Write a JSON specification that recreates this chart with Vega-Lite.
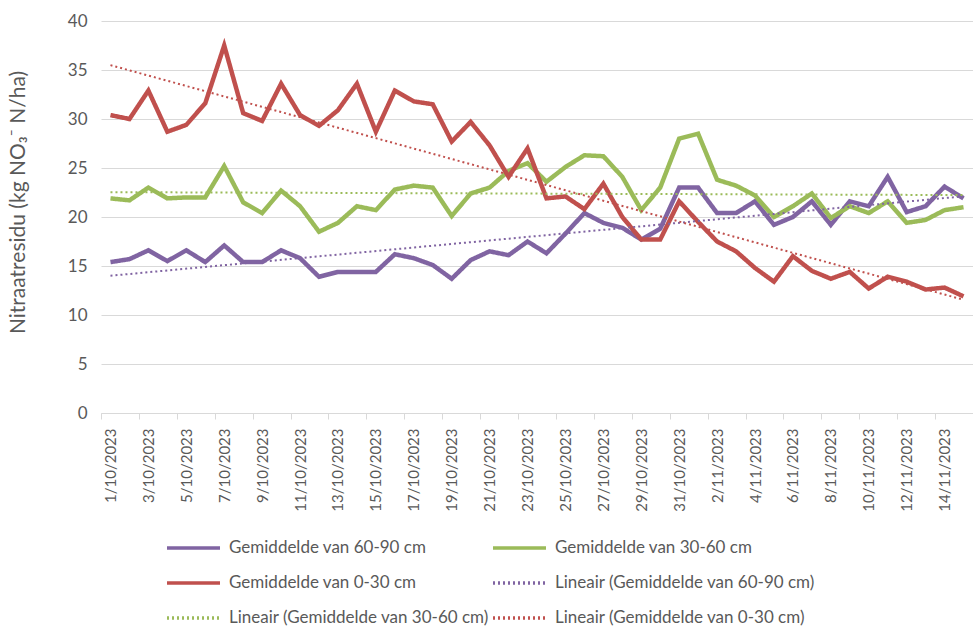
{
  "$schema": "https://vega.github.io/schema/vega-lite/v6.json",
  "width": 872,
  "height": 392,
  "autosize": {"type": "none"},
  "padding": {"left": 101, "top": 21, "right": 0, "bottom": 215},
  "background": "white",
  "config": {"view": {"stroke": null}, "font": "Lato", "axisX": {"labelOverlap": false, "labelFlush": false}},
  "datasets": {
    "rows": [
      {"day":1,"series":"Gemiddelde van 60-90 cm","trend":"Lineair (Gemiddelde van 60-90 cm)","value":15.4},
      {"day":2,"series":"Gemiddelde van 60-90 cm","trend":"Lineair (Gemiddelde van 60-90 cm)","value":15.7},
      {"day":3,"series":"Gemiddelde van 60-90 cm","trend":"Lineair (Gemiddelde van 60-90 cm)","value":16.6},
      {"day":4,"series":"Gemiddelde van 60-90 cm","trend":"Lineair (Gemiddelde van 60-90 cm)","value":15.5},
      {"day":5,"series":"Gemiddelde van 60-90 cm","trend":"Lineair (Gemiddelde van 60-90 cm)","value":16.6},
      {"day":6,"series":"Gemiddelde van 60-90 cm","trend":"Lineair (Gemiddelde van 60-90 cm)","value":15.4},
      {"day":7,"series":"Gemiddelde van 60-90 cm","trend":"Lineair (Gemiddelde van 60-90 cm)","value":17.1},
      {"day":8,"series":"Gemiddelde van 60-90 cm","trend":"Lineair (Gemiddelde van 60-90 cm)","value":15.4},
      {"day":9,"series":"Gemiddelde van 60-90 cm","trend":"Lineair (Gemiddelde van 60-90 cm)","value":15.4},
      {"day":10,"series":"Gemiddelde van 60-90 cm","trend":"Lineair (Gemiddelde van 60-90 cm)","value":16.6},
      {"day":11,"series":"Gemiddelde van 60-90 cm","trend":"Lineair (Gemiddelde van 60-90 cm)","value":15.8},
      {"day":12,"series":"Gemiddelde van 60-90 cm","trend":"Lineair (Gemiddelde van 60-90 cm)","value":13.9},
      {"day":13,"series":"Gemiddelde van 60-90 cm","trend":"Lineair (Gemiddelde van 60-90 cm)","value":14.4},
      {"day":14,"series":"Gemiddelde van 60-90 cm","trend":"Lineair (Gemiddelde van 60-90 cm)","value":14.4},
      {"day":15,"series":"Gemiddelde van 60-90 cm","trend":"Lineair (Gemiddelde van 60-90 cm)","value":14.4},
      {"day":16,"series":"Gemiddelde van 60-90 cm","trend":"Lineair (Gemiddelde van 60-90 cm)","value":16.2},
      {"day":17,"series":"Gemiddelde van 60-90 cm","trend":"Lineair (Gemiddelde van 60-90 cm)","value":15.8},
      {"day":18,"series":"Gemiddelde van 60-90 cm","trend":"Lineair (Gemiddelde van 60-90 cm)","value":15.1},
      {"day":19,"series":"Gemiddelde van 60-90 cm","trend":"Lineair (Gemiddelde van 60-90 cm)","value":13.7},
      {"day":20,"series":"Gemiddelde van 60-90 cm","trend":"Lineair (Gemiddelde van 60-90 cm)","value":15.6},
      {"day":21,"series":"Gemiddelde van 60-90 cm","trend":"Lineair (Gemiddelde van 60-90 cm)","value":16.5},
      {"day":22,"series":"Gemiddelde van 60-90 cm","trend":"Lineair (Gemiddelde van 60-90 cm)","value":16.1},
      {"day":23,"series":"Gemiddelde van 60-90 cm","trend":"Lineair (Gemiddelde van 60-90 cm)","value":17.5},
      {"day":24,"series":"Gemiddelde van 60-90 cm","trend":"Lineair (Gemiddelde van 60-90 cm)","value":16.3},
      {"day":25,"series":"Gemiddelde van 60-90 cm","trend":"Lineair (Gemiddelde van 60-90 cm)","value":18.3},
      {"day":26,"series":"Gemiddelde van 60-90 cm","trend":"Lineair (Gemiddelde van 60-90 cm)","value":20.4},
      {"day":27,"series":"Gemiddelde van 60-90 cm","trend":"Lineair (Gemiddelde van 60-90 cm)","value":19.4},
      {"day":28,"series":"Gemiddelde van 60-90 cm","trend":"Lineair (Gemiddelde van 60-90 cm)","value":18.9},
      {"day":29,"series":"Gemiddelde van 60-90 cm","trend":"Lineair (Gemiddelde van 60-90 cm)","value":17.7},
      {"day":30,"series":"Gemiddelde van 60-90 cm","trend":"Lineair (Gemiddelde van 60-90 cm)","value":18.8},
      {"day":31,"series":"Gemiddelde van 60-90 cm","trend":"Lineair (Gemiddelde van 60-90 cm)","value":23.0},
      {"day":32,"series":"Gemiddelde van 60-90 cm","trend":"Lineair (Gemiddelde van 60-90 cm)","value":23.0},
      {"day":33,"series":"Gemiddelde van 60-90 cm","trend":"Lineair (Gemiddelde van 60-90 cm)","value":20.4},
      {"day":34,"series":"Gemiddelde van 60-90 cm","trend":"Lineair (Gemiddelde van 60-90 cm)","value":20.4},
      {"day":35,"series":"Gemiddelde van 60-90 cm","trend":"Lineair (Gemiddelde van 60-90 cm)","value":21.6},
      {"day":36,"series":"Gemiddelde van 60-90 cm","trend":"Lineair (Gemiddelde van 60-90 cm)","value":19.2},
      {"day":37,"series":"Gemiddelde van 60-90 cm","trend":"Lineair (Gemiddelde van 60-90 cm)","value":20.0},
      {"day":38,"series":"Gemiddelde van 60-90 cm","trend":"Lineair (Gemiddelde van 60-90 cm)","value":21.6},
      {"day":39,"series":"Gemiddelde van 60-90 cm","trend":"Lineair (Gemiddelde van 60-90 cm)","value":19.2},
      {"day":40,"series":"Gemiddelde van 60-90 cm","trend":"Lineair (Gemiddelde van 60-90 cm)","value":21.6},
      {"day":41,"series":"Gemiddelde van 60-90 cm","trend":"Lineair (Gemiddelde van 60-90 cm)","value":21.1},
      {"day":42,"series":"Gemiddelde van 60-90 cm","trend":"Lineair (Gemiddelde van 60-90 cm)","value":24.1},
      {"day":43,"series":"Gemiddelde van 60-90 cm","trend":"Lineair (Gemiddelde van 60-90 cm)","value":20.5},
      {"day":44,"series":"Gemiddelde van 60-90 cm","trend":"Lineair (Gemiddelde van 60-90 cm)","value":21.1},
      {"day":45,"series":"Gemiddelde van 60-90 cm","trend":"Lineair (Gemiddelde van 60-90 cm)","value":23.1},
      {"day":46,"series":"Gemiddelde van 60-90 cm","trend":"Lineair (Gemiddelde van 60-90 cm)","value":21.9},
      {"day":1,"series":"Gemiddelde van 30-60 cm","trend":"Lineair (Gemiddelde van 30-60 cm)","value":21.9},
      {"day":2,"series":"Gemiddelde van 30-60 cm","trend":"Lineair (Gemiddelde van 30-60 cm)","value":21.7},
      {"day":3,"series":"Gemiddelde van 30-60 cm","trend":"Lineair (Gemiddelde van 30-60 cm)","value":23.0},
      {"day":4,"series":"Gemiddelde van 30-60 cm","trend":"Lineair (Gemiddelde van 30-60 cm)","value":21.9},
      {"day":5,"series":"Gemiddelde van 30-60 cm","trend":"Lineair (Gemiddelde van 30-60 cm)","value":22.0},
      {"day":6,"series":"Gemiddelde van 30-60 cm","trend":"Lineair (Gemiddelde van 30-60 cm)","value":22.0},
      {"day":7,"series":"Gemiddelde van 30-60 cm","trend":"Lineair (Gemiddelde van 30-60 cm)","value":25.2},
      {"day":8,"series":"Gemiddelde van 30-60 cm","trend":"Lineair (Gemiddelde van 30-60 cm)","value":21.5},
      {"day":9,"series":"Gemiddelde van 30-60 cm","trend":"Lineair (Gemiddelde van 30-60 cm)","value":20.4},
      {"day":10,"series":"Gemiddelde van 30-60 cm","trend":"Lineair (Gemiddelde van 30-60 cm)","value":22.7},
      {"day":11,"series":"Gemiddelde van 30-60 cm","trend":"Lineair (Gemiddelde van 30-60 cm)","value":21.1},
      {"day":12,"series":"Gemiddelde van 30-60 cm","trend":"Lineair (Gemiddelde van 30-60 cm)","value":18.5},
      {"day":13,"series":"Gemiddelde van 30-60 cm","trend":"Lineair (Gemiddelde van 30-60 cm)","value":19.4},
      {"day":14,"series":"Gemiddelde van 30-60 cm","trend":"Lineair (Gemiddelde van 30-60 cm)","value":21.1},
      {"day":15,"series":"Gemiddelde van 30-60 cm","trend":"Lineair (Gemiddelde van 30-60 cm)","value":20.7},
      {"day":16,"series":"Gemiddelde van 30-60 cm","trend":"Lineair (Gemiddelde van 30-60 cm)","value":22.8},
      {"day":17,"series":"Gemiddelde van 30-60 cm","trend":"Lineair (Gemiddelde van 30-60 cm)","value":23.2},
      {"day":18,"series":"Gemiddelde van 30-60 cm","trend":"Lineair (Gemiddelde van 30-60 cm)","value":23.0},
      {"day":19,"series":"Gemiddelde van 30-60 cm","trend":"Lineair (Gemiddelde van 30-60 cm)","value":20.1},
      {"day":20,"series":"Gemiddelde van 30-60 cm","trend":"Lineair (Gemiddelde van 30-60 cm)","value":22.4},
      {"day":21,"series":"Gemiddelde van 30-60 cm","trend":"Lineair (Gemiddelde van 30-60 cm)","value":23.0},
      {"day":22,"series":"Gemiddelde van 30-60 cm","trend":"Lineair (Gemiddelde van 30-60 cm)","value":24.7},
      {"day":23,"series":"Gemiddelde van 30-60 cm","trend":"Lineair (Gemiddelde van 30-60 cm)","value":25.5},
      {"day":24,"series":"Gemiddelde van 30-60 cm","trend":"Lineair (Gemiddelde van 30-60 cm)","value":23.6},
      {"day":25,"series":"Gemiddelde van 30-60 cm","trend":"Lineair (Gemiddelde van 30-60 cm)","value":25.1},
      {"day":26,"series":"Gemiddelde van 30-60 cm","trend":"Lineair (Gemiddelde van 30-60 cm)","value":26.3},
      {"day":27,"series":"Gemiddelde van 30-60 cm","trend":"Lineair (Gemiddelde van 30-60 cm)","value":26.2},
      {"day":28,"series":"Gemiddelde van 30-60 cm","trend":"Lineair (Gemiddelde van 30-60 cm)","value":24.1},
      {"day":29,"series":"Gemiddelde van 30-60 cm","trend":"Lineair (Gemiddelde van 30-60 cm)","value":20.7},
      {"day":30,"series":"Gemiddelde van 30-60 cm","trend":"Lineair (Gemiddelde van 30-60 cm)","value":23.0},
      {"day":31,"series":"Gemiddelde van 30-60 cm","trend":"Lineair (Gemiddelde van 30-60 cm)","value":28.0},
      {"day":32,"series":"Gemiddelde van 30-60 cm","trend":"Lineair (Gemiddelde van 30-60 cm)","value":28.5},
      {"day":33,"series":"Gemiddelde van 30-60 cm","trend":"Lineair (Gemiddelde van 30-60 cm)","value":23.8},
      {"day":34,"series":"Gemiddelde van 30-60 cm","trend":"Lineair (Gemiddelde van 30-60 cm)","value":23.2},
      {"day":35,"series":"Gemiddelde van 30-60 cm","trend":"Lineair (Gemiddelde van 30-60 cm)","value":22.2},
      {"day":36,"series":"Gemiddelde van 30-60 cm","trend":"Lineair (Gemiddelde van 30-60 cm)","value":20.0},
      {"day":37,"series":"Gemiddelde van 30-60 cm","trend":"Lineair (Gemiddelde van 30-60 cm)","value":21.1},
      {"day":38,"series":"Gemiddelde van 30-60 cm","trend":"Lineair (Gemiddelde van 30-60 cm)","value":22.4},
      {"day":39,"series":"Gemiddelde van 30-60 cm","trend":"Lineair (Gemiddelde van 30-60 cm)","value":19.9},
      {"day":40,"series":"Gemiddelde van 30-60 cm","trend":"Lineair (Gemiddelde van 30-60 cm)","value":21.1},
      {"day":41,"series":"Gemiddelde van 30-60 cm","trend":"Lineair (Gemiddelde van 30-60 cm)","value":20.4},
      {"day":42,"series":"Gemiddelde van 30-60 cm","trend":"Lineair (Gemiddelde van 30-60 cm)","value":21.6},
      {"day":43,"series":"Gemiddelde van 30-60 cm","trend":"Lineair (Gemiddelde van 30-60 cm)","value":19.4},
      {"day":44,"series":"Gemiddelde van 30-60 cm","trend":"Lineair (Gemiddelde van 30-60 cm)","value":19.7},
      {"day":45,"series":"Gemiddelde van 30-60 cm","trend":"Lineair (Gemiddelde van 30-60 cm)","value":20.7},
      {"day":46,"series":"Gemiddelde van 30-60 cm","trend":"Lineair (Gemiddelde van 30-60 cm)","value":21.0},
      {"day":1,"series":"Gemiddelde van 0-30 cm","trend":"Lineair (Gemiddelde van 0-30 cm)","value":30.4},
      {"day":2,"series":"Gemiddelde van 0-30 cm","trend":"Lineair (Gemiddelde van 0-30 cm)","value":30.0},
      {"day":3,"series":"Gemiddelde van 0-30 cm","trend":"Lineair (Gemiddelde van 0-30 cm)","value":32.9},
      {"day":4,"series":"Gemiddelde van 0-30 cm","trend":"Lineair (Gemiddelde van 0-30 cm)","value":28.7},
      {"day":5,"series":"Gemiddelde van 0-30 cm","trend":"Lineair (Gemiddelde van 0-30 cm)","value":29.4},
      {"day":6,"series":"Gemiddelde van 0-30 cm","trend":"Lineair (Gemiddelde van 0-30 cm)","value":31.6},
      {"day":7,"series":"Gemiddelde van 0-30 cm","trend":"Lineair (Gemiddelde van 0-30 cm)","value":37.5},
      {"day":8,"series":"Gemiddelde van 0-30 cm","trend":"Lineair (Gemiddelde van 0-30 cm)","value":30.6},
      {"day":9,"series":"Gemiddelde van 0-30 cm","trend":"Lineair (Gemiddelde van 0-30 cm)","value":29.8},
      {"day":10,"series":"Gemiddelde van 0-30 cm","trend":"Lineair (Gemiddelde van 0-30 cm)","value":33.6},
      {"day":11,"series":"Gemiddelde van 0-30 cm","trend":"Lineair (Gemiddelde van 0-30 cm)","value":30.4},
      {"day":12,"series":"Gemiddelde van 0-30 cm","trend":"Lineair (Gemiddelde van 0-30 cm)","value":29.3},
      {"day":13,"series":"Gemiddelde van 0-30 cm","trend":"Lineair (Gemiddelde van 0-30 cm)","value":30.9},
      {"day":14,"series":"Gemiddelde van 0-30 cm","trend":"Lineair (Gemiddelde van 0-30 cm)","value":33.6},
      {"day":15,"series":"Gemiddelde van 0-30 cm","trend":"Lineair (Gemiddelde van 0-30 cm)","value":28.7},
      {"day":16,"series":"Gemiddelde van 0-30 cm","trend":"Lineair (Gemiddelde van 0-30 cm)","value":32.9},
      {"day":17,"series":"Gemiddelde van 0-30 cm","trend":"Lineair (Gemiddelde van 0-30 cm)","value":31.8},
      {"day":18,"series":"Gemiddelde van 0-30 cm","trend":"Lineair (Gemiddelde van 0-30 cm)","value":31.5},
      {"day":19,"series":"Gemiddelde van 0-30 cm","trend":"Lineair (Gemiddelde van 0-30 cm)","value":27.7},
      {"day":20,"series":"Gemiddelde van 0-30 cm","trend":"Lineair (Gemiddelde van 0-30 cm)","value":29.7},
      {"day":21,"series":"Gemiddelde van 0-30 cm","trend":"Lineair (Gemiddelde van 0-30 cm)","value":27.3},
      {"day":22,"series":"Gemiddelde van 0-30 cm","trend":"Lineair (Gemiddelde van 0-30 cm)","value":24.1},
      {"day":23,"series":"Gemiddelde van 0-30 cm","trend":"Lineair (Gemiddelde van 0-30 cm)","value":27.0},
      {"day":24,"series":"Gemiddelde van 0-30 cm","trend":"Lineair (Gemiddelde van 0-30 cm)","value":21.9},
      {"day":25,"series":"Gemiddelde van 0-30 cm","trend":"Lineair (Gemiddelde van 0-30 cm)","value":22.1},
      {"day":26,"series":"Gemiddelde van 0-30 cm","trend":"Lineair (Gemiddelde van 0-30 cm)","value":20.8},
      {"day":27,"series":"Gemiddelde van 0-30 cm","trend":"Lineair (Gemiddelde van 0-30 cm)","value":23.4},
      {"day":28,"series":"Gemiddelde van 0-30 cm","trend":"Lineair (Gemiddelde van 0-30 cm)","value":20.0},
      {"day":29,"series":"Gemiddelde van 0-30 cm","trend":"Lineair (Gemiddelde van 0-30 cm)","value":17.7},
      {"day":30,"series":"Gemiddelde van 0-30 cm","trend":"Lineair (Gemiddelde van 0-30 cm)","value":17.7},
      {"day":31,"series":"Gemiddelde van 0-30 cm","trend":"Lineair (Gemiddelde van 0-30 cm)","value":21.6},
      {"day":32,"series":"Gemiddelde van 0-30 cm","trend":"Lineair (Gemiddelde van 0-30 cm)","value":19.5},
      {"day":33,"series":"Gemiddelde van 0-30 cm","trend":"Lineair (Gemiddelde van 0-30 cm)","value":17.5},
      {"day":34,"series":"Gemiddelde van 0-30 cm","trend":"Lineair (Gemiddelde van 0-30 cm)","value":16.5},
      {"day":35,"series":"Gemiddelde van 0-30 cm","trend":"Lineair (Gemiddelde van 0-30 cm)","value":14.8},
      {"day":36,"series":"Gemiddelde van 0-30 cm","trend":"Lineair (Gemiddelde van 0-30 cm)","value":13.4},
      {"day":37,"series":"Gemiddelde van 0-30 cm","trend":"Lineair (Gemiddelde van 0-30 cm)","value":16.0},
      {"day":38,"series":"Gemiddelde van 0-30 cm","trend":"Lineair (Gemiddelde van 0-30 cm)","value":14.5},
      {"day":39,"series":"Gemiddelde van 0-30 cm","trend":"Lineair (Gemiddelde van 0-30 cm)","value":13.7},
      {"day":40,"series":"Gemiddelde van 0-30 cm","trend":"Lineair (Gemiddelde van 0-30 cm)","value":14.4},
      {"day":41,"series":"Gemiddelde van 0-30 cm","trend":"Lineair (Gemiddelde van 0-30 cm)","value":12.7},
      {"day":42,"series":"Gemiddelde van 0-30 cm","trend":"Lineair (Gemiddelde van 0-30 cm)","value":13.9},
      {"day":43,"series":"Gemiddelde van 0-30 cm","trend":"Lineair (Gemiddelde van 0-30 cm)","value":13.4},
      {"day":44,"series":"Gemiddelde van 0-30 cm","trend":"Lineair (Gemiddelde van 0-30 cm)","value":12.6},
      {"day":45,"series":"Gemiddelde van 0-30 cm","trend":"Lineair (Gemiddelde van 0-30 cm)","value":12.8},
      {"day":46,"series":"Gemiddelde van 0-30 cm","trend":"Lineair (Gemiddelde van 0-30 cm)","value":11.9}
    ]
  },
  "data": {"name": "rows"},
  "encoding": {
    "x": {
      "field": "day",
      "type": "quantitative",
      "scale": {"domain": [0.5, 46.5], "nice": false, "zero": false},
      "axis": {
        "values": [1,3,5,7,9,11,13,15,17,19,21,23,25,27,29,31,33,35,37,39,41,43,45],
        "labelExpr": "datum.value <= 31 ? datum.value + '/10/2023' : (datum.value - 31) + '/11/2023'",
        "tickOffset": -9.48,
        "labelOffset": 9.48,
        "labelAngle": -90,
        "labelFont": "Lato",
        "labelFontSize": 15,
        "labelColor": "#595959",
        "labelPadding": 9,
        "labelFlush": false,
        "labelOverlap": false,
        "labelBound": false,
        "tickSize": 6,
        "tickColor": "#D9D9D9",
        "domainColor": "#D9D9D9",
        "grid": false,
        "title": null
      }
    },
    "y": {
      "field": "value",
      "type": "quantitative",
      "scale": {"domain": [0, 40], "nice": false},
      "axis": {
        "values": [0,5,10,15,20,25,30,35,40],
        "grid": true,
        "gridColor": "#D9D9D9",
        "domain": false,
        "ticks": false,
        "labelFont": "Lato",
        "labelFontSize": 17,
        "labelColor": "#595959",
        "labelPadding": 14,
        "title": "Nitraatresidu (kg NO₃⁻ N/ha)",
        "titleFont": "Lato",
        "titleFontSize": 21,
        "titleFontWeight": "normal",
        "titleColor": "#595959",
        "titleX": -83,
        "titleY": 181,
        "titleBaseline": "middle"
      }
    }
  },
  "layer": [
    {
      "mark": {"type": "line", "strokeWidth": 4.5},
      "encoding": {
        "color": {
          "field": "series",
          "type": "nominal",
          "title": null,
          "scale": {
            "domain": ["Gemiddelde van 60-90 cm", "Gemiddelde van 30-60 cm", "Gemiddelde van 0-30 cm", "Lineair (Gemiddelde van 60-90 cm)", "Lineair (Gemiddelde van 30-60 cm)", "Lineair (Gemiddelde van 0-30 cm)"],
            "range": ["#8064A2", "#9BBB59", "#C0504D", "#8064A2", "#9BBB59", "#C0504D"]
          },
          "legend": {
            "orient": "none",
            "legendX": 64,
            "legendY": 515,
            "columns": 2,
            "direction": "horizontal",
            "title": null,
            "symbolType": "M-1,0H4.3",
            "symbolSize": 400,
            "symbolStrokeWidth": 3.5,
            "labelOffset": 40,
            "labelFont": "Lato",
            "labelFontSize": 17,
            "labelColor": "#595959",
            "labelLimit": 500,
            "rowPadding": 15,
            "columnPadding": -4
          }
        },
        "strokeDash": {
          "field": "series",
          "type": "nominal",
          "title": null,
          "scale": {
            "domain": ["Gemiddelde van 60-90 cm", "Gemiddelde van 30-60 cm", "Gemiddelde van 0-30 cm", "Lineair (Gemiddelde van 60-90 cm)", "Lineair (Gemiddelde van 30-60 cm)", "Lineair (Gemiddelde van 0-30 cm)"],
            "range": [[1, 0], [1, 0], [1, 0], [2, 3], [2, 3], [2, 3]]
          }
        }
      }
    },
    {
      "transform": [{"regression": "value", "on": "day", "groupby": ["trend"]}],
      "mark": {"type": "line", "strokeWidth": 2},
      "encoding": {
        "color": {"field": "trend", "type": "nominal", "title": null},
        "strokeDash": {"field": "trend", "type": "nominal", "title": null}
      }
    }
  ]
}
